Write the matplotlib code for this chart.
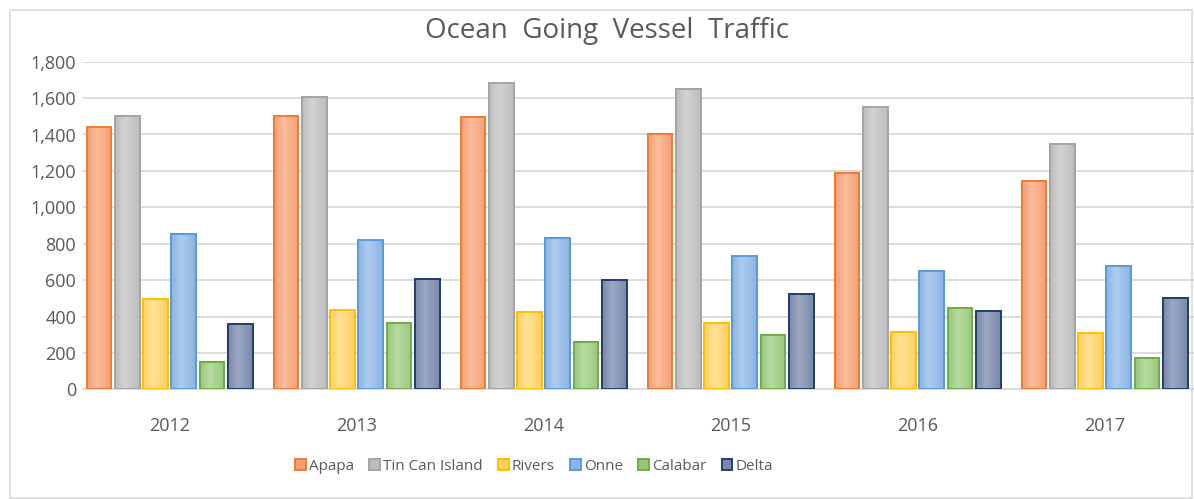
import matplotlib
matplotlib.use('Agg')
import matplotlib.pyplot as plt
import numpy as np
from matplotlib.colors import LinearSegmentedColormap
from matplotlib.patches import Rectangle

years = ['2012', '2013', '2014', '2015', '2016', '2017']
ports = ['Apapa', 'Tin Can Island', 'Rivers', 'Onne', 'Calabar', 'Delta']

apapa = [1440, 1503, 1495, 1404, 1190, 1146]
tin_can = [1503, 1606, 1685, 1652, 1553, 1346]
rivers = [496, 434, 423, 366, 317, 308]
onne = [853, 820, 833, 734, 652, 677]
calabar = [152, 364, 262, 300, 448, 174]
delta = [359, 606, 601, 522, 432, 503]

series = [apapa, tin_can, rivers, onne, calabar, delta]
# darker side / lighter middle of each bar's gradient, and outline
dark = ['#F59E72', '#BDBDBD', '#FFD062', '#8CB4E4', '#98C77C', '#7A89AA']
light = ['#FBBD9C', '#D2D2D2', '#FFE296', '#AECBEE', '#B8DAA2', '#9CA8C2']
edges = ['#ED7D31', '#A5A5A5', '#FFC000', '#5B9BD5', '#70AD47', '#263E6E']

plt.rcParams['font.family'] = ['Open Sans', 'DejaVu Sans']
grey = '#595959'

fig = plt.figure(figsize=(11.94, 4.99), dpi=100)
W, H = 1194, 499
ax = fig.add_axes([83 / W, 1 - 389.3 / H, 1 - 83 / W, (389.3 - 61.7) / H])

x = np.arange(len(years))
pitch = 0.151
width = 0.132
ramp = np.linspace(0, 1, 64).reshape(1, -1)
for i, vals in enumerate(series):
    bars = ax.bar(x + (i - 2.5) * pitch, vals, width, color=dark[i], edgecolor=edges[i],
                  linewidth=1.4, label=ports[i], zorder=3)
    cmap = LinearSegmentedColormap.from_list(
        'g%d' % i, [(0, dark[i]), (0.4, light[i]), (1, dark[i])])
    for b in bars:
        im = ax.imshow(ramp, cmap=cmap, aspect='auto', zorder=3.1,
                       extent=[b.get_x(), b.get_x() + b.get_width(), 0, b.get_height()])
        im.set_clip_path(b)
    ax.bar(x + (i - 2.5) * pitch, vals, width, fill=False, edgecolor=edges[i],
           linewidth=1.4, zorder=3.2)

ax.set_ylim(0, 1800)
ax.set_xlim(-0.463, 5.478)
ax.set_yticks(range(0, 1801, 200))
ax.set_yticklabels([f'{v:,}' for v in range(0, 1801, 200)])
ax.set_xticks(x)
ax.set_xticklabels(years)
ax.yaxis.grid(True, color='#D9D9D9', linewidth=1.3, zorder=0)
ax.tick_params(axis='both', length=0, colors=grey, labelsize=13)
ax.tick_params(axis='x', pad=20)
ax.tick_params(axis='y', pad=5)
for s in ['top', 'right', 'left']:
    ax.spines[s].set_visible(False)
ax.spines['bottom'].set_color('#D9D9D9')
ax.spines['bottom'].set_linewidth(1.3)
ax.set_axisbelow(True)

fig.text(607 / W, 1 - 31 / H, 'Ocean  Going  Vessel  Traffic', ha='center', va='center',
         fontsize=20, color=grey)

fig.legend(loc='center', bbox_to_anchor=(534 / W, 1 - 466 / H), ncol=6, frameon=False,
           fontsize=11, handlelength=0.7, handleheight=0.7, handletextpad=0.2,
           columnspacing=1.0, labelcolor=grey)

fig.patches.append(Rectangle((10 / W, 1.5 / H), (1192 - 10) / W, (489 - 1.5) / H,
                             transform=fig.transFigure, fill=False,
                             edgecolor='#D9D9D9', linewidth=1.2))

fig.savefig('out.png', dpi=100)
